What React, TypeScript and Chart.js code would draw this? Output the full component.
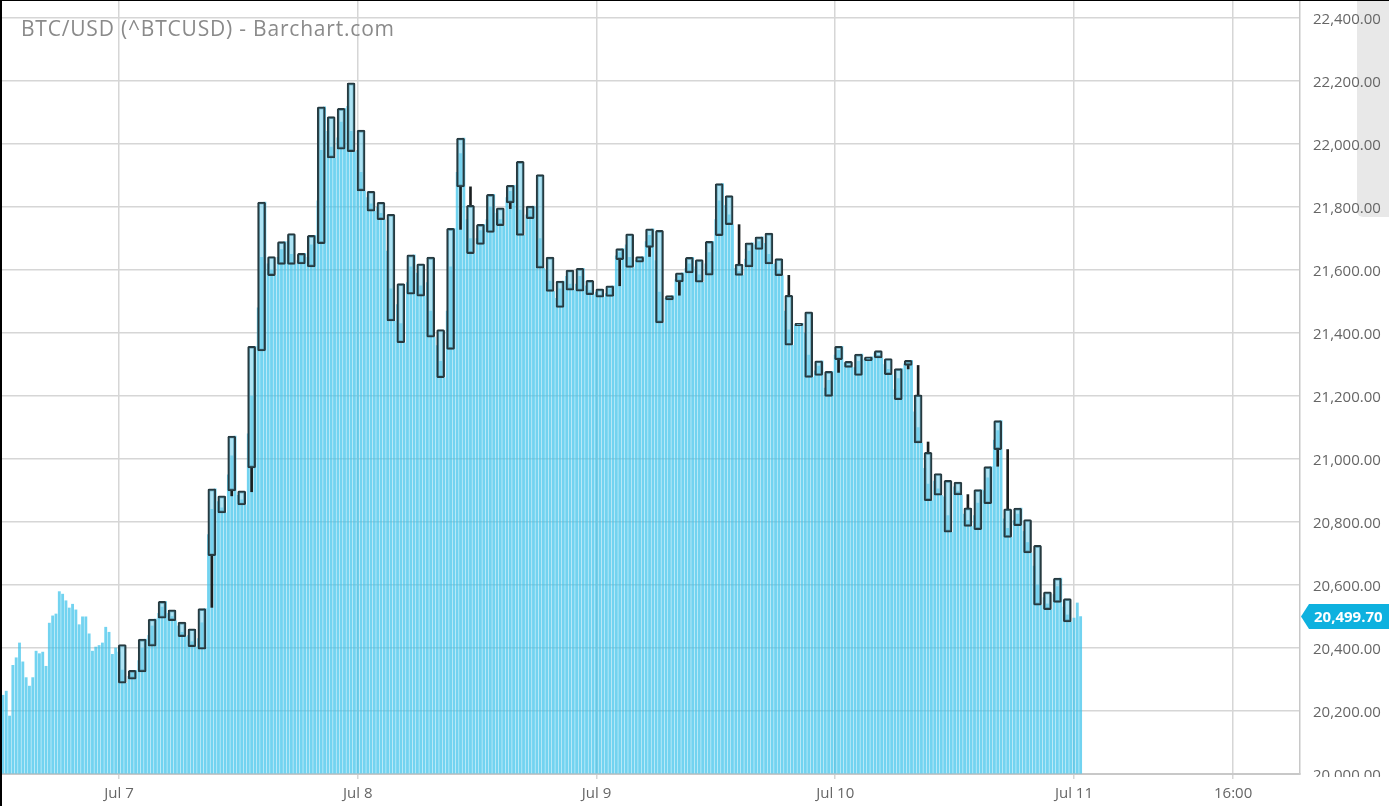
import React, { useEffect, useRef } from "react";
import { Chart, registerables } from "chart.js";

Chart.register(...registerables);

const TITLE = "BTC/USD (^BTCUSD) - Barchart.com";
const LAST_PRICE = 20499.7;

// x values are hours counted from Jul 6 12:00
const X_MIN = 0.24;
const X_MAX = 130.72;
const X_TICK_HOURS = [12, 36, 60, 84, 108, 124];
const X_TICK_LABELS = ["Jul 7", "Jul 8", "Jul 9", "Jul 10", "Jul 11", "16:00"];
const Y_MIN = 20000;
const Y_MAX = 22454;
const Y_TICKS = [20000, 20200, 20400, 20600, 20800, 21000, 21200, 21400, 21600, 21800, 22000, 22200, 22400];

const FIRST_CANDLE_HOUR = 12; // Jul 7 00:00
const BAR_STEP_HOURS = 1 / 3; // 20-minute closes

// 20-minute closing values (light blue columns), starting Jul 6 12:20
const BAR_VALUES = [
  20250, 20263, 20184, 20345, 20369, 20416, 20356, 20306, 20279, 20306, 20390, 20382, 20387, 20342, 20479, 20502, 20508, 20579,
  20571, 20550, 20527, 20539, 20521, 20474, 20499, 20499, 20445, 20390, 20403, 20408, 20416, 20466, 20450, 20380, 20400,
  20387, 20330, 20288, 20310, 20320, 20329, 20360, 20400, 20428, 20440, 20470, 20492, 20510, 20530, 20548, 20510, 20500, 20487, 20470, 20450, 20436, 20440, 20420, 20404, 20430, 20480, 20525, 20760, 20840, 20905,
  20865, 20845, 20829, 20950, 21010, 21073, 20885, 20870, 20854, 21080, 21200, 21358, 21480, 21640, 21816, 21620, 21600, 21582, 21640, 21665, 21690, 21690, 21650, 21618, 21630, 21645, 21653, 21640, 21680, 21710,
  21820, 21980, 22118, 22040, 21990, 21956, 22020, 22070, 22113, 22120, 22040, 21976, 21980, 21910, 21851, 21830, 21810, 21787, 21800, 21780, 21760, 21660, 21540, 21438, 21490, 21430, 21369, 21560, 21610, 21648,
  21590, 21550, 21517, 21560, 21470, 21387, 21360, 21310, 21258, 21470, 21610, 21732, 21910, 21970, 22019, 21760, 21700, 21652, 21700, 21725, 21745, 21760, 21800, 21840, 21780, 21760, 21741, 21830, 21850, 21869,
  21870, 21790, 21710, 21775, 21790, 21803, 21800, 21700, 21606, 21600, 21565, 21532, 21510, 21540, 21565, 21580, 21555, 21536, 21555, 21580, 21605, 21550, 21535, 21522, 21530, 21520, 21514, 21525, 21540, 21550,
  21645, 21655, 21668, 21680, 21640, 21608, 21630, 21638, 21643, 21690, 21710, 21731, 21630, 21530, 21432, 21510, 21515, 21519, 21570, 21580, 21591, 21605, 21620, 21640, 21610, 21585, 21561, 21620, 21655, 21691,
  21760, 21820, 21874, 21805, 21775, 21744, 21605, 21595, 21583, 21635, 21660, 21686, 21680, 21690, 21705, 21685, 21650, 21619, 21620, 21600, 21582, 21470, 21410, 21361, 21425, 21428, 21431, 21400, 21330, 21259,
  21280, 21295, 21312, 21225, 21250, 21278, 21330, 21345, 21358, 21305, 21298, 21291, 21290, 21310, 21333, 21316, 21320, 21324, 21336, 21328, 21321, 21300, 21285, 21268, 21220, 21255, 21287, 21302, 21308, 21313,
  21150, 21100, 21051, 20970, 20920, 20868, 20930, 20905, 20885, 20880, 20820, 20768, 20912, 20898, 20886, 20825, 20805, 20786, 20820, 20860, 20903, 20900, 20940, 20976, 21060, 21090, 21122, 20810, 20780, 20751,
  20805, 20825, 20844, 20770, 20735, 20702, 20660, 20600, 20536, 20560, 20540, 20522, 20570, 20595, 20622, 20530, 20505, 20483,
  20495, 20543, 20499.7,
];

// Hourly candles, Jul 7 00:00 .. Jul 10 23:00
const OPEN = [
  20411, 20301, 20324, 20406, 20495, 20521, 20482, 20461, 20396, 20693,
  20883, 20899, 20899, 20972, 21343, 21643, 21618, 21716, 21619, 21610,
  21684, 22087, 21984, 22194, 22044, 21850, 21815, 21777, 21557, 21523,
  21620, 21641, 21411, 21348, 21864, 21805, 21681, 21719, 21797, 21813,
  21945, 21763, 21903, 21641, 21481, 21600, 21533, 21567, 21540, 21516,
  21633, 21715, 21625, 21672, 21726, 21505, 21562, 21591, 21633, 21584,
  21709, 21836, 21619, 21610, 21665, 21717, 21636, 21520, 21423, 21467,
  21265, 21199, 21315, 21310, 21265, 21312, 21344, 21319, 21188, 21297,
  21204, 21021, 20954, 20932, 20927, 20845, 20776, 20858, 21030, 20842,
  20788, 20808, 20726, 20578, 20545, 20557,
];
const HIGH = [
  20411, 20329, 20428, 20492, 20548, 20521, 20482, 20461, 20525, 20905,
  20883, 21073, 20899, 21358, 21816, 21643, 21690, 21716, 21653, 21710,
  22118, 22087, 22113, 22194, 22044, 21850, 21815, 21777, 21557, 21648,
  21620, 21641, 21411, 21732, 22019, 21864, 21745, 21840, 21797, 21869,
  21945, 21803, 21903, 21641, 21565, 21600, 21605, 21567, 21540, 21550,
  21668, 21715, 21643, 21731, 21726, 21519, 21591, 21640, 21633, 21691,
  21874, 21836, 21744, 21686, 21705, 21717, 21636, 21583, 21431, 21467,
  21312, 21278, 21358, 21310, 21333, 21324, 21344, 21319, 21287, 21313,
  21297, 21054, 20954, 20932, 20927, 20887, 20903, 20976, 21122, 21030,
  20844, 20808, 20726, 20578, 20622, 20557,
];
const LOW = [
  20288, 20301, 20324, 20406, 20495, 20487, 20436, 20404, 20396, 20529,
  20829, 20883, 20854, 20896, 21343, 21582, 21618, 21618, 21619, 21610,
  21684, 21956, 21984, 21976, 21851, 21787, 21760, 21438, 21369, 21523,
  21517, 21387, 21258, 21348, 21729, 21652, 21681, 21719, 21741, 21795,
  21710, 21763, 21606, 21532, 21481, 21536, 21533, 21522, 21514, 21516,
  21550, 21608, 21625, 21643, 21432, 21505, 21520, 21591, 21561, 21584,
  21709, 21744, 21583, 21610, 21665, 21619, 21582, 21361, 21423, 21259,
  21265, 21199, 21275, 21291, 21265, 21312, 21321, 21268, 21188, 21286,
  21051, 20868, 20885, 20768, 20886, 20786, 20776, 20858, 20977, 20751,
  20788, 20702, 20536, 20522, 20545, 20483,
];
const CLOSE = [
  20288, 20329, 20428, 20492, 20548, 20487, 20436, 20404, 20525, 20905,
  20829, 21073, 20854, 21358, 21816, 21582, 21690, 21618, 21653, 21710,
  22118, 21956, 22113, 21976, 21851, 21787, 21760, 21438, 21369, 21648,
  21517, 21387, 21258, 21732, 22019, 21652, 21745, 21840, 21741, 21869,
  21710, 21803, 21606, 21532, 21565, 21536, 21605, 21522, 21514, 21550,
  21668, 21608, 21643, 21731, 21432, 21519, 21591, 21640, 21561, 21691,
  21874, 21744, 21583, 21686, 21705, 21619, 21582, 21361, 21431, 21259,
  21312, 21278, 21358, 21291, 21333, 21324, 21321, 21268, 21287, 21313,
  21051, 20868, 20885, 20768, 20886, 20786, 20903, 20976, 21122, 20751,
  20844, 20702, 20536, 20522, 20622, 20483,
];

const fmt = (v: number) =>
  Number(v).toLocaleString("en-US", { minimumFractionDigits: 2, maximumFractionDigits: 2 });

const candleX = (i: number) => FIRST_CANDLE_HOUR + i + BAR_STEP_HOURS;

export default function App() {
  const canvasRef = useRef<HTMLCanvasElement | null>(null);

  useEffect(() => {
    let chart: Chart | null = null;
    let cancelled = false;

    const build = () => {
      if (cancelled || !canvasRef.current) return;
      const barPoints = BAR_VALUES.map((v, i) => ({ x: (i + 1) * BAR_STEP_HOURS, y: v }));
      const bodies = OPEN.map((o, i) => ({
        x: candleX(i),
        y: [Math.min(o, CLOSE[i]), Math.max(o, CLOSE[i])],
      }));
      const upper: any[] = [];
      const lower: any[] = [];
      OPEN.forEach((o, i) => {
        const top = Math.max(o, CLOSE[i]);
        const bot = Math.min(o, CLOSE[i]);
        if (HIGH[i] > top) upper.push({ x: candleX(i), y: [top, HIGH[i]] });
        if (LOW[i] < bot) lower.push({ x: candleX(i), y: [LOW[i], bot] });
      });

      const decor = {
        id: "decor",
        afterDraw(c: any) {
          const { ctx, chartArea } = c;
          const y = c.scales.y;
          ctx.save();
          // title
          ctx.font = '21px "Open Sans"';
          try {
            (ctx as any).letterSpacing = "0.8px";
          } catch (e) {}
          ctx.fillStyle = "#8a8a8a";
          ctx.textAlign = "left";
          ctx.textBaseline = "alphabetic";
          ctx.fillText(TITLE, chartArea.left + 19, 35);
          try {
            (ctx as any).letterSpacing = "0px";
          } catch (e) {}
          // clip lowest axis label like the reference
          ctx.clearRect(chartArea.right + 2, chartArea.bottom + 3, c.width, c.height);
          // last price tag
          const py = y.getPixelForValue(LAST_PRICE);
          const x0 = chartArea.right;
          ctx.fillStyle = "#0eb1df";
          ctx.beginPath();
          ctx.moveTo(x0 + 1, py);
          ctx.lineTo(x0 + 9, py - 12.5);
          ctx.lineTo(c.width, py - 12.5);
          ctx.lineTo(c.width, py + 12.5);
          ctx.lineTo(x0 + 9, py + 12.5);
          ctx.closePath();
          ctx.fill();
          ctx.fillStyle = "#ffffff";
          ctx.font = 'bold 15px "Open Sans"';
          ctx.textBaseline = "middle";
          ctx.fillText(fmt(LAST_PRICE), x0 + 14, py + 1);
          ctx.restore();
        },
      };

      chart = new Chart(canvasRef.current, {
        type: "bar",
        data: {
          datasets: [
            {
              label: "20-min close",
              data: barPoints as any,
              backgroundColor: "rgba(60, 194, 234, 0.72)",
              borderWidth: 0,
              barThickness: 2.2,
              grouped: false,
              base: Y_MIN,
              order: 3,
            } as any,
            {
              label: "upper wick",
              data: upper,
              backgroundColor: "#1b1f20",
              borderWidth: 0,
              barThickness: 2,
              grouped: false,
              order: 2,
            } as any,
            {
              label: "lower wick",
              data: lower,
              backgroundColor: "#1b1f20",
              borderWidth: 0,
              barThickness: 2,
              grouped: false,
              order: 2,
            } as any,
            {
              label: "candle",
              data: bodies as any,
              backgroundColor: "rgba(120, 210, 238, 0.6)",
              borderColor: "#263a40",
              borderWidth: 2,
              borderSkipped: false,
              borderRadius: 1.5,
              barThickness: 8,
              grouped: false,
              order: 1,
            } as any,
          ],
        },
        options: {
          animation: false,
          responsive: false,
          maintainAspectRatio: false,
          events: [],
          layout: { padding: 0 },
          plugins: { legend: { display: false }, tooltip: { enabled: false }, title: { display: false } },
          scales: {
            x: {
              type: "linear",
              min: X_MIN,
              max: X_MAX,
              offset: false,
              afterBuildTicks: (s: any) => {
                s.ticks = X_TICK_HOURS.map((v) => ({ value: v }));
              },
              afterFit: (s: any) => {
                s.height = 32;
                s.paddingLeft = 0;
                s.paddingRight = 0;
              },
              ticks: {
                autoSkip: false,
                maxRotation: 0,
                padding: 6,
                color: "#666666",
                font: { family: "Open Sans", size: 15 },
                callback: (v: any) => {
                  const k = X_TICK_HOURS.indexOf(Number(v));
                  return k >= 0 ? X_TICK_LABELS[k] : "";
                },
              },
              grid: { color: "#d6d6d6", lineWidth: 1.5, tickLength: 5, drawTicks: true, offset: false },
              border: { display: true, color: "#c8c8c8", width: 2 },
            },
            y: {
              type: "linear",
              position: "right",
              min: Y_MIN,
              max: Y_MAX,
              afterBuildTicks: (s: any) => {
                s.ticks = Y_TICKS.map((v) => ({ value: v }));
              },
              afterFit: (s: any) => {
                s.width = 89;
                s.paddingTop = 0;
                s.paddingBottom = 0;
              },
              ticks: {
                padding: 13,
                labelOffset: 2,
                color: "#666666",
                font: { family: "Open Sans", size: 15 },
                callback: (v: any) => fmt(Number(v)),
              },
              grid: { color: "#d6d6d6", lineWidth: 1.5, drawTicks: false },
              border: { display: true, color: "#c8c8c8", width: 1.5 },
            },
          },
        },
        plugins: [decor],
      } as any);
    };

    const fonts: any = (document as any).fonts;
    if (fonts && fonts.load) {
      Promise.all([
        fonts.load('15px "Open Sans"'),
        fonts.load('bold 15px "Open Sans"'),
        fonts.load('21px "Open Sans"'),
      ])
        .catch(() => null)
        .then(build);
    } else {
      build();
    }

    return () => {
      cancelled = true;
      if (chart) chart.destroy();
    };
  }, []);

  return (
    <div
      style={{
        position: "absolute",
        left: 0,
        top: 0,
        width: 1389,
        height: 806,
        boxSizing: "border-box",
        borderTop: "1px solid #000",
        borderLeft: "2px solid #000",
        background: "#fff",
        overflow: "hidden",
      }}
    >
      <div
        style={{
          position: "absolute",
          left: 1355,
          top: 0,
          width: 32,
          height: 216,
          background: "#e8e8e8",
          borderBottomLeftRadius: 6,
        }}
      />
      <canvas
        ref={canvasRef}
        width={1387}
        height={805}
        style={{ position: "absolute", left: 0, top: 0, width: 1387, height: 805 }}
      />
    </div>
  );
}
